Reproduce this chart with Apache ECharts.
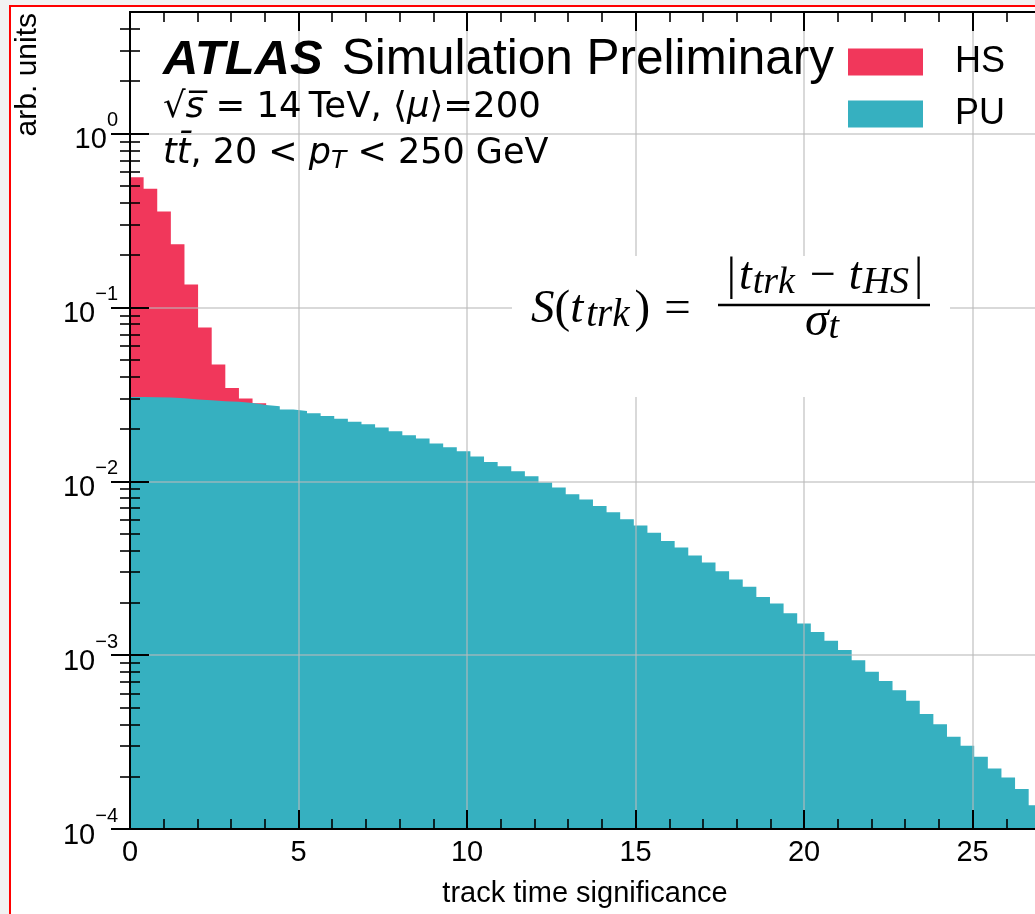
<!DOCTYPE html>
<html>
<head>
<meta charset="utf-8">
<script src="https://cdn.jsdelivr.net/npm/echarts@6/dist/echarts.min.js"></script>
<style>
  html, body { margin: 0; padding: 0; background: #f2f2f2; overflow: hidden; }
  #frame { position: absolute; left: 9px; top: 5px; width: 1100px; height: 1000px;
           background: #fff; border-left: 2px solid #ff0000; border-top: 2px solid #ff0000; }
  #chart { position: absolute; left: 0; top: 0; width: 1035px; height: 914px; }
</style>
</head>
<body>
<div id="frame"></div>
<div id="chart"></div>
<script>
// Histogram binning of the track time significance
const binWidth = 0.404;

// Hard-scatter (HS) track fraction per bin, starting at 0
const hsValues = [0.561, 0.481, 0.356, 0.231, 0.1355, 0.0767, 0.0469, 0.0344, 0.0299, 0.0281];

// Pile-up (PU) track fraction per bin, starting at 0
const puValues = [
  0.0305, 0.0304, 0.0303, 0.0300, 0.0295, 0.0292, 0.0289, 0.0287, 0.0282, 0.0275,
  0.0270, 0.0259, 0.0254, 0.0246, 0.0237, 0.0229, 0.0220, 0.0213, 0.0204, 0.0194,
  0.0184, 0.0176, 0.0165, 0.0157, 0.0149, 0.0139, 0.0129, 0.0122, 0.0114, 0.0107,
  0.00983, 0.00920, 0.00842, 0.00785, 0.00721, 0.00663, 0.00605, 0.00556, 0.00505, 0.00454,
  0.00416, 0.00374, 0.00341, 0.00304, 0.00272, 0.00247, 0.00216, 0.00198, 0.00174, 0.00152,
  0.00136, 0.00121, 0.00107, 0.000936, 0.000802, 0.000709, 0.000629, 0.000546, 0.000458, 0.000401,
  0.000339, 0.000301, 0.000260, 0.000223, 0.000198, 0.000170, 0.000137
];

const seriesNames = ['HS', 'PU'];
const seriesColors = ['#F1375B', '#36B0C0'];

// Axis ranges and tick labels
const xRange = [0, 27];
const xTickLabels = ['0', '5', '10', '15', '20', '25'];
const yRange = [1e-4, 5];
const yTickExponents = [-4, -3, -2, -1, 0];

// Log minor ticks: 2..9 times each decade, inside the y range
const yMinorTicks = [];
for (const e of yTickExponents) {
  for (let m = 2; m <= 9; m++) {
    const v = m * Math.pow(10, e);
    if (v < yRange[1]) yMinorTicks.push(Number(v.toPrecision(6)));
  }
}
const yMajorTicks = yTickExponents.map(e => Math.pow(10, e));

const FONT = '"Liberation Sans", Arial, Helvetica, sans-serif';
const MATH = '"DejaVu Sans", sans-serif';
const SERIF = '"Liberation Serif", "Times New Roman", serif';

// Step outline of a histogram: one point per bin left edge plus the closing right edge
function stepPoints(values) {
  const pts = values.map((v, i) => [i * binWidth, v]);
  pts.push([values.length * binWidth, values[values.length - 1]]);
  return pts;
}

const gridLine = { show: true, lineStyle: { color: 'rgba(185,185,185,0.55)', width: 2 } };
const blackLine = { show: true, lineStyle: { color: '#000', width: 2 } };

function xAxisPair(position, withLabels) {
  return [
    {
      type: 'value', position, offset: 0, min: xRange[0], max: xRange[1], interval: 5, z: 3,
      axisLine: blackLine,
      axisTick: { show: true, inside: true, length: 19, lineStyle: { color: '#000', width: 2 } },
      splitLine: position === 'bottom' ? gridLine : { show: false },
      axisLabel: withLabels ? {
        show: true, fontSize: 29, fontFamily: FONT, color: '#000', margin: 9, verticalAlign: 'top',
        formatter: v => xTickLabels.includes(String(v)) ? String(v) : ''
      } : { show: false },
      name: withLabels ? 'track time significance' : '',
      nameLocation: 'middle', nameGap: 50, nameMoveOverlap: false,
      nameTextStyle: { fontSize: 29, fontFamily: FONT, color: '#000' }
    },
    {
      type: 'value', position, offset: 0, min: xRange[0], max: xRange[1], interval: 1, z: 3,
      axisLine: { show: false },
      axisTick: { show: true, inside: true, length: 10, lineStyle: { color: '#000', width: 1.6 } },
      splitLine: { show: false },
      axisLabel: { show: false }
    }
  ];
}

function yAxisPair(position, withLabels) {
  return [
    {
      type: 'log', logBase: 10, position, offset: 0, min: yRange[0], max: yRange[1], z: 3,
      axisLine: blackLine,
      axisTick: { show: true, inside: true, length: 19, customValues: yMajorTicks,
                  lineStyle: { color: '#000', width: 2 } },
      splitLine: withLabels ? gridLine : { show: false },
      axisLabel: withLabels ? {
        show: true, margin: 12, padding: [0, 0, 2, 0],
        customValues: yMajorTicks,
        formatter: v => {
          const e = Math.round(Math.log10(v));
          return '{b|10}{s|' + (e < 0 ? '\u2212' + (-e) : String(e)) + '}';
        },
        rich: {
          b: { fontSize: 29, fontFamily: FONT, color: '#000', lineHeight: 44, verticalAlign: 'bottom' },
          s: { fontSize: 20, fontFamily: FONT, color: '#000', lineHeight: 6, verticalAlign: 'top' }
        }
      } : { show: false }
    },
    {
      type: 'log', logBase: 10, position, offset: 0, min: yRange[0], max: yRange[1], z: 3,
      axisLine: { show: false },
      axisTick: { show: true, inside: true, length: 10, customValues: yMinorTicks,
                  lineStyle: { color: '#000', width: 1.6 } },
      splitLine: { show: false },
      axisLabel: { show: false }
    }
  ];
}

const chart = echarts.init(document.getElementById('chart'), null, { renderer: 'canvas' });

const option = {
  animation: false,
  backgroundColor: 'transparent',
  grid: { left: 130, right: -5, top: 12, bottom: 85, containLabel: false, outerBoundsMode: 'none' },
  xAxis: [...xAxisPair('bottom', true), ...xAxisPair('top', false)],
  yAxis: [...yAxisPair('left', true), ...yAxisPair('right', false)],
  legend: {
    orient: 'vertical', left: 848, top: 44, padding: 0,
    itemWidth: 75, itemHeight: 27, itemGap: 16,
    selectedMode: false,
    textStyle: { fontSize: 36, fontFamily: FONT, color: '#000', padding: [0, 0, 0, 27], lineHeight: 27 },
    data: seriesNames.map(n => ({ name: n, icon: 'rect' }))
  },
  series: [hsValues, puValues].map((vals, k) => ({
    name: seriesNames[k],
    type: 'line',
    step: 'end',
    xAxisIndex: 0, yAxisIndex: 0,
    symbol: 'none',
    color: seriesColors[k],
    lineStyle: { width: 0 },
    areaStyle: { color: seriesColors[k], opacity: 1, origin: 'start' },
    data: stepPoints(vals),
    z: 2
  })),
  graphic: [
    {
      type: 'text', x: 28, y: 13, rotation: Math.PI / 2, z: 10,
      style: { text: 'arb. units', font: '30px ' + FONT, fill: '#000', align: 'right', verticalAlign: 'middle' }
    },
    {
      type: 'text', x: 163, y: 60, z: 10,
      style: {
        text: '{a|ATLAS}{b|Simulation Preliminary}', verticalAlign: 'middle',
        rich: {
          a: { fontSize: 49, fontFamily: FONT, fontWeight: 'bold', fontStyle: 'italic', fill: '#000' },
          b: { fontSize: 49.5, fontFamily: FONT, fill: '#000', padding: [0, 0, 0, 19] }
        }
      }
    },
    {
      type: 'text', x: 163, y: 108, z: 10,
      style: {
        text: '{m|\u221A}{i|s\u0305}{m| = 14\u2009TeV, \u27E8}{i|\u03BC}{m|\u27E9=200}', verticalAlign: 'middle',
        rich: {
          m: { fontSize: 35.5, fontFamily: MATH, fill: '#000' },
          i: { fontSize: 35.5, fontFamily: MATH, fontStyle: 'italic', fill: '#000' }
        }
      }
    },
    {
      type: 'text', x: 163, y: 154, z: 10,
      style: {
        text: '{i|tt\u0304}{m|, 20 < }{i|p}{u|T}{m| < 250 GeV}', verticalAlign: 'middle',
        rich: {
          m: { fontSize: 35, fontFamily: MATH, fill: '#000', lineHeight: 40, verticalAlign: 'middle' },
          i: { fontSize: 35, fontFamily: MATH, fontStyle: 'italic', fill: '#000', lineHeight: 40, verticalAlign: 'middle' },
          u: { fontSize: 25, fontFamily: MATH, fontStyle: 'italic', fill: '#000', lineHeight: 22, verticalAlign: 'bottom' }
        }
      }
    },
    // White panel behind the significance formula
    {
      type: 'rect', z: 9,
      shape: { x: 512, y: 256, width: 438, height: 141 },
      style: { fill: '#fff' }
    },
    {
      type: 'text', x: 531, y: 310, z: 10,
      style: {
        text: '{i|S}{r|(}{i|t}{s|trk}{r|)}{e|=}', verticalAlign: 'middle',
        rich: {
          i: { fontSize: 47, fontFamily: SERIF, fontStyle: 'italic', fill: '#000', lineHeight: 50, verticalAlign: 'middle' },
          r: { fontSize: 47, fontFamily: SERIF, fill: '#000', lineHeight: 50, verticalAlign: 'middle' },
          e: { fontSize: 47, fontFamily: SERIF, fill: '#000', lineHeight: 50, verticalAlign: 'middle', padding: [0, 0, 0, 14] },
          s: { fontSize: 39, fontFamily: SERIF, fontStyle: 'italic', fill: '#000', lineHeight: 35, verticalAlign: 'bottom', padding: [0, 5, 0, 3] }
        }
      }
    },
    {
      type: 'text', x: 825, y: 277, z: 10,
      style: {
        text: '{r||}{i|t}{s|trk}{m|\u2212}{i|t}{s|HS}{r||}', align: 'center', verticalAlign: 'middle',
        rich: {
          i: { fontSize: 46, fontFamily: SERIF, fontStyle: 'italic', fill: '#000', lineHeight: 50, verticalAlign: 'middle' },
          r: { fontSize: 46, fontFamily: SERIF, fill: '#000', lineHeight: 50, verticalAlign: 'middle', padding: [0, 3, 0, 3] },
          m: { fontSize: 46, fontFamily: SERIF, fill: '#000', lineHeight: 50, verticalAlign: 'middle', padding: [0, 13, 0, 13] },
          s: { fontSize: 38, fontFamily: SERIF, fontStyle: 'italic', fill: '#000', lineHeight: 35, verticalAlign: 'bottom', padding: [0, 2, 0, 1] }
        }
      }
    },
    {
      type: 'line', z: 10,
      shape: { x1: 718, y1: 305, x2: 930, y2: 305 },
      style: { stroke: '#000', lineWidth: 2.5 }
    },
    {
      type: 'text', x: 822, y: 322, z: 10,
      style: {
        text: '{i|\u03C3}{s|t}', align: 'center', verticalAlign: 'middle',
        rich: {
          i: { fontSize: 48, fontFamily: SERIF, fontStyle: 'italic', fill: '#000', lineHeight: 50, verticalAlign: 'middle' },
          s: { fontSize: 38, fontFamily: SERIF, fontStyle: 'italic', fill: '#000', lineHeight: 35, verticalAlign: 'bottom' }
        }
      }
    }
  ]
};

chart.setOption(option);
</script>
</body>
</html>
